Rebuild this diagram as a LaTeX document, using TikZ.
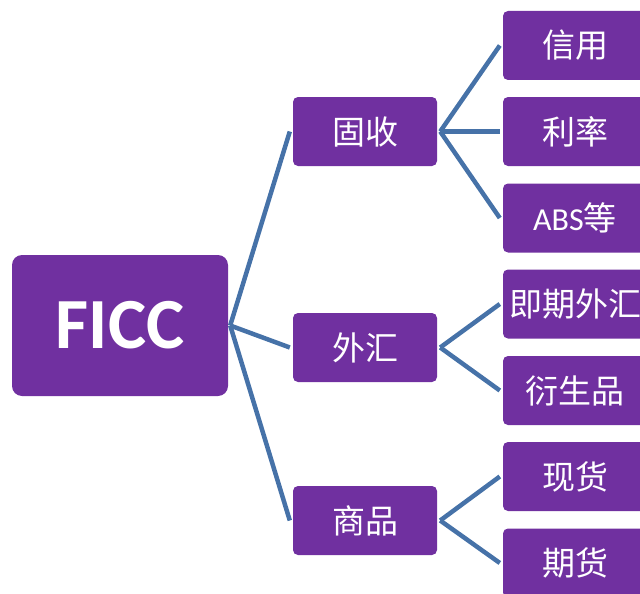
\documentclass[tikz,border=0pt]{standalone}
\usepackage{fontspec}
\setmainfont{Carlito}
\newfontfamily\cjk{Noto Sans CJK SC}
\definecolor{boxpurple}{HTML}{7030A0}
\definecolor{linkblue}{HTML}{4672A8}
\tikzset{
  box/.style={fill=boxpurple, rounded corners=5pt, minimum width=144pt, minimum height=69pt, inner sep=0pt, text=white, font=\cjk\fontsize{33}{33}\selectfont},
  rootbox/.style={fill=boxpurple, rounded corners=10pt, minimum width=216pt, minimum height=141pt, inner sep=0pt, text=white, font=\bfseries\fontsize{72}{72}\selectfont},
  link/.style={draw=linkblue, line width=4.5pt}
}
\begin{document}
\begin{tikzpicture}[x=1pt,y=-1pt]
\useasboundingbox (0,0) rectangle (640,594);
\clip (0,0) rectangle (640,594);
\node[rootbox] (root) at (120,325.5) {FICC};
\node[box] (gs) at (365,131.5) {固收};
\node[box] (wh) at (365,347.5) {外汇};
\node[box] (sp) at (365,520.5) {商品};
\node[box] (xy) at (575,45.5) {信用};
\node[box] (ll) at (575,131.5) {利率};
\node[box] (abs) at (575,218) {{\fontspec{Carlito}\fontsize{32}{32}\selectfont ABS}等};
\node[box] (jq) at (575,304) {即期外汇};
\node[box] (ys) at (575,390.5) {衍生品};
\node[box] (xh) at (575,476.5) {现货};
\node[box] (qh) at (575,563) {期货};
\coordinate (r0) at ([xshift=2pt]root.east);
\coordinate (g0) at ([xshift=3pt]gs.east);
\coordinate (w0) at ([xshift=3pt]wh.east);
\coordinate (s0) at ([xshift=3pt]sp.east);
\draw[link] (r0) -- ([xshift=-3pt]gs.west);
\draw[link] (r0) -- ([xshift=-3pt]wh.west);
\draw[link] (r0) -- ([xshift=-3pt]sp.west);
\draw[link] (g0) -- ([xshift=-3pt]xy.west);
\draw[link] (g0) -- ([xshift=-3pt]ll.west);
\draw[link] (g0) -- ([xshift=-3pt]abs.west);
\draw[link] (w0) -- ([xshift=-3pt]jq.west);
\draw[link] (w0) -- ([xshift=-3pt]ys.west);
\draw[link] (s0) -- ([xshift=-3pt]xh.west);
\draw[link] (s0) -- ([xshift=-3pt]qh.west);
\end{tikzpicture}
\end{document}
